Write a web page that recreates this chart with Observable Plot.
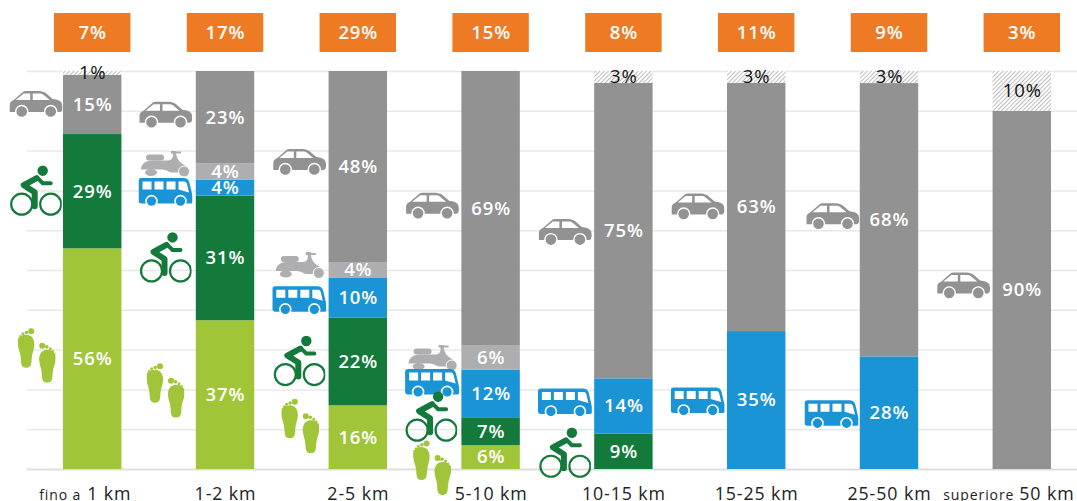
<!DOCTYPE html>
<html lang="it">
<head>
<meta charset="utf-8">
<script src="https://cdn.jsdelivr.net/npm/d3@7"></script>
<script src="https://cdn.jsdelivr.net/npm/@observablehq/plot@0.6"></script>
<style>
html,body{margin:0;padding:0;background:#fff;overflow:hidden}
svg{display:block}
</style>
</head>
<body>
<div id="chart"></div>
<script>
// ---- data ----
const categories = ["fino a 1 km","1-2 km","2-5 km","5-10 km","10-15 km","15-25 km","25-50 km","superiore 50 km"];
const tickPrefix = ["fino a","","","","","","","superiore"];
const tickMain   = ["1 km","1-2 km","2-5 km","5-10 km","10-15 km","15-25 km","25-50 km","50 km"];
const shareOfTrips = [7,17,29,15,8,11,9,3];
const foot   = [56,37,16,6,null,null,null,null];
const bike   = [29,31,22,7,9,null,null,null];
const bus    = [null,4,10,12,14,35,28,null];
const moped  = [null,4,4,6,null,null,null,null];
const car    = [15,23,48,69,75,63,68,90];
const other  = [1,null,null,null,3,3,3,10];
const modes  = ["foot","bike","bus","moped","car","other"];
const seriesValues = {foot,bike,bus,moped,car,other};

// ---- styling & layout ----
const colors = ["#a1c538","#137a3c","#1a94d4","#aeaeb0","#929292","url(#hatch)"];
const FONT = "'Open Sans', 'Noto Sans', sans-serif";
// icon nudges relative to the bar segment's centre: [mode, column, dx, dy]
const iconNudges = [
  ["car",0,-57,-1],["bike",0,-57,-1],["foot",0,-56,-4],
  ["car",1,-60,-3],["moped",1,-60,-8],["bus",1,-60,4],["bike",1,-60,-1],["foot",1,-60,-5],
  ["car",2,-59,-5],["moped",2,-58,-5],["bus",2,-59,2],["bike",2,-59,-1],["foot",2,-58,-12],
  ["car",3,-59,-3],["moped",3,-58,0],["bus",3,-59,-11],["bike",3,-60,-15],["foot",3,-59,10],
  ["car",4,-59,1],["bus",4,-59,-4],["bike",4,-59,1],
  ["car",5,-59,-1],["bus",5,-59,1],
  ["car",6,-57,-4],["bus",6,-58,1],
  ["car",7,-59,-5]
];
const svgUri = (w,h,body) => "data:image/svg+xml," + encodeURIComponent(`<svg xmlns="http://www.w3.org/2000/svg" width="${w}" height="${h}" viewBox="0 0 ${w} ${h}">${body}</svg>`);
const sole = "M8.500 0C14.500 0 17 5 16.500 11C16 16 14.500 18 14 23C13.700 28 14 33 8.500 33C3 33 3.500 28 3 23C2.500 17 0 14 0 8C0 3 3 0 8.500 0Z";
const icons = {
  car: {w:54,h:28,src:svgUri(54,28,`
    <path fill="#929292" d="M1 22V15C1 12 3 11 5 10L13 3C15 1 16 1 19 1H31C33 1 35 2 37 3L44 9C48 9.5 52 10.5 53 13C54 16 54 19 53 21C52 22 51 22 50 22Z"/>
    <path fill="#fff" d="M7 10L15 3.5H21.5V10ZM24 3.5H32C33 3.5 34 4 35 5L41 10H24Z"/>
    <circle cx="13" cy="21.5" r="6" fill="#929292" stroke="#fff" stroke-width="1.4"/>
    <circle cx="42" cy="21.5" r="6" fill="#929292" stroke="#fff" stroke-width="1.4"/>`)},
  moped: {w:51,h:27,src:svgUri(51,27,`
    <g fill="#aeaeb0">
    <rect x="6" y="4" width="18" height="6" rx="3"/>
    <path d="M1 19C1 14 5 10 12 10H27C31 10 33 8 33 4L32 1H41V3H36C37 9 40 12 45 15C48 17 50 19 50 22H31C29 22 27 19 22 19Z"/>
    <rect x="31" y="0" width="5" height="3"/>
    <ellipse cx="11" cy="22" rx="6" ry="3.5"/>
    <circle cx="44" cy="21" r="5.5" stroke="#fff" stroke-width="1"/>
    </g>`)},
  bus: {w:54,h:30,src:svgUri(54,30,`
    <path fill="#1a94d4" d="M3 1H44C48 1 50 2 51 6L54 19V25Q54 26.5 52 26.5H3Q0 26.5 0 23.500V4Q0 1 3 1Z"/>
    <path fill="#fff" d="M4 4.500H13V12.500H4ZM16 4.500H25V12.500H16ZM28 4.500H37V12.500H28ZM40 4.500H45C47 4.500 48 5 48.500 7L50.500 15.500L40 12.500Z"/>
    <circle cx="13" cy="24" r="5.500" fill="#1a94d4" stroke="#fff" stroke-width="1.600"/>
    <circle cx="42" cy="24" r="5.500" fill="#1a94d4" stroke="#fff" stroke-width="1.600"/>`)},
  bike: {w:52,h:51,src:svgUri(52,51,`
    <circle cx="33" cy="5.500" r="5.200" fill="#137a3c"/>
    <circle cx="12" cy="39" r="10.500" fill="none" stroke="#137a3c" stroke-width="2.200"/>
    <circle cx="41" cy="39" r="10.500" fill="none" stroke="#137a3c" stroke-width="2.200"/>
    <path fill="none" stroke="#137a3c" stroke-width="6" stroke-linejoin="round" stroke-linecap="round" d="M27 13L14 20L25 27V41"/>
    <path fill="none" stroke="#137a3c" stroke-width="4" stroke-linecap="round" d="M29 14L33 18H41"/>`)},
  foot: {w:38,h:55,src:svgUri(38,55,`
    <g fill="#a1c538">
    <path transform="translate(0 7)" d="${sole}"/>
    <path transform="translate(38 22) scale(-1 1)" d="${sole}"/>
    <circle cx="13.500" cy="3.500" r="3"/><circle cx="8.800" cy="4.800" r="1.800"/><circle cx="5.200" cy="6.200" r="1.500"/><circle cx="2.800" cy="8.600" r="1.200"/><circle cx="1" cy="11" r="1"/>
    <circle cx="24.500" cy="18" r="3"/><circle cx="29" cy="19.200" r="1.800"/><circle cx="32.500" cy="21" r="1.500"/><circle cx="35" cy="23.600" r="1.200"/><circle cx="37" cy="26.500" r="1"/>
    </g>`)}
};

// ---- derived tables ----
const rows = categories.flatMap((cat,i) => modes
  .filter(m => seriesValues[m][i] != null)
  .map(m => ({cat, mode:m, v:seriesValues[m][i]})));
const stackOpts = {x:"cat", y:"v", z:"mode", order:modes, offset:"normalize"};
function segmentMid(mode,i){
  let sum=0, total=0, mid=0;
  for (const m of modes){
    const v = seriesValues[m][i];
    if (v==null) continue;
    if (m===mode) mid = sum + v/2;
    sum += v; total += v;
  }
  return mid/total;
}
const HEADER = {y1:1.0477, y2:1.1457, y:1.0967};
const TICK_Y = -0.062;
const tickRow = categories.map((cat,i)=>({cat, prefix:tickPrefix[i], main:tickMain[i]}));
const textBase = {fontFamily:FONT, fontSize:18.5, fontWeight:600};
const tickFont = {fontFamily:FONT, fontSize:17.8, fill:"#222"};

const hatchDefs = () => {
  const defs = d3.create("svg:defs");
  const p = defs.append("pattern").attr("id","hatch").attr("patternUnits","userSpaceOnUse")
    .attr("width",3).attr("height",3).attr("patternTransform","rotate(45)");
  p.append("rect").attr("width",3).attr("height",3).attr("fill","#fff");
  p.append("line").attr("x1",0).attr("x2",0).attr("y1",0).attr("y2",3)
    .attr("stroke","#7a7a7a").attr("stroke-width",1);
  return defs.node();
};

const chart = Plot.plot({
  width:1077, height:501,
  marginLeft:27, marginRight:0, marginTop:0, marginBottom:0,
  style:{background:"#fff", overflow:"visible", letterSpacing:"0.9px"},
  x:{type:"band", domain:categories, range:[63,1051], paddingInner:0.56, paddingOuter:0, round:false, axis:null},
  y:{domain:[0,1], range:[469,71], axis:null},
  color:{type:"ordinal", domain:modes, range:colors},
  marks:[
    hatchDefs,
    Plot.ruleY(d3.range(1,11).map(d=>d/10), {stroke:"#e8e8e8", strokeWidth:1.5}),
    Plot.ruleY([0], {stroke:"#dedede", strokeWidth:1.8}),
    Plot.barY(rows, Plot.stackY({...stackOpts, fill:"mode"})),
    Plot.text(rows, Plot.stackY({...stackOpts, ...textBase, fill:"#fff",
      text:d=>d.mode==="other"?null:d.v+"%"})),
    Plot.text(rows, Plot.stackY({...stackOpts, ...textBase, fontWeight:400, fill:"#111",
      text:d=>d.mode==="other"?d.v+"%":null})),
    Plot.barY(categories, {x:d=>d, y1:()=>HEADER.y1, y2:()=>HEADER.y2, fill:"#ee7b24", insetLeft:-9, insetRight:-9}),
    Plot.text(categories, {x:d=>d, y:()=>HEADER.y, text:(d,i)=>shareOfTrips[i]+"%", fill:"#fff", ...textBase}),
    ...iconNudges.map(([mode,i,dx,dy]) => Plot.image([{cat:categories[i], y:segmentMid(mode,i)}], {
      x:"cat", y:"y", src:()=>icons[mode].src, width:icons[mode].w, height:icons[mode].h, dx, dy
    })),
    // category labels: prefix + main
    Plot.text(tickRow.filter(d=>!d.prefix), {x:"cat", y:()=>TICK_Y, text:"main", ...tickFont}),
    ...tickRow.filter(d=>d.prefix).flatMap((d,k) => {
      const startDx = [-5.5,-3][k], endDx = [-11.5,-8][k];
      return [
        Plot.text([d], {x:"cat", y:()=>TICK_Y, text:"main", ...tickFont, textAnchor:"start", dx:startDx}),
        Plot.text([d], {x:"cat", y:()=>TICK_Y, text:"prefix", ...tickFont, fontSize:14, textAnchor:"end", dx:endDx, dy:1})
      ];
    })
  ]
});
document.getElementById("chart").appendChild(chart);
</script>
</body>
</html>
